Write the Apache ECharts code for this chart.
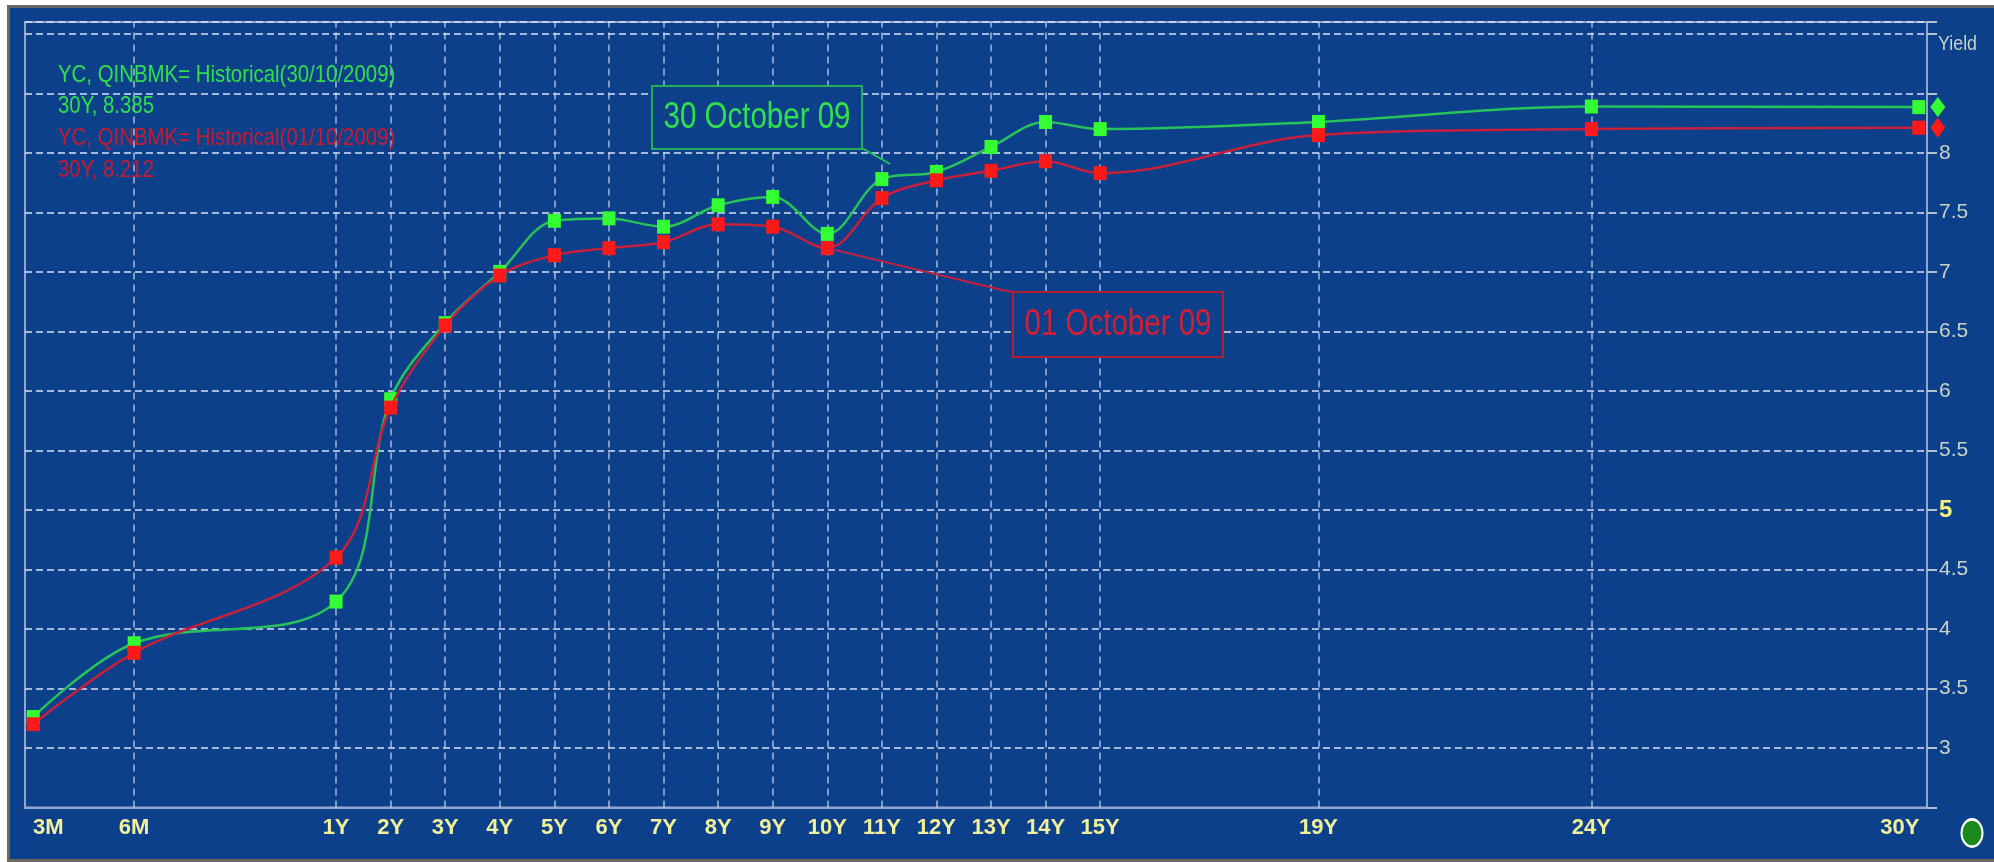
<!DOCTYPE html>
<html><head><meta charset="utf-8">
<script src="https://cdn.jsdelivr.net/npm/echarts@6/dist/echarts.min.js"></script>
<style>
html,body{margin:0;padding:0;background:#fff;width:1994px;height:862px;overflow:hidden}
#panel{position:absolute;left:7px;top:5px;width:1987px;height:857px;background:#0c408a;box-sizing:border-box;border:3px solid #6d6763;border-right:none;}
#chart{position:absolute;left:0;top:0;width:1994px;height:862px}
</style></head><body><div id="panel"></div><div id="chart"></div>
<script>
// ---- data ----
const tenorLabels = ['3M','6M','1Y','2Y','3Y','4Y','5Y','6Y','7Y','8Y','9Y','10Y','11Y','12Y','13Y','14Y','15Y','19Y','24Y','30Y'];
const tenorYears  = [0.25,0.5,1,2,3,4,5,6,7,8,9,10,11,12,13,14,15,19,24,30];
const yield30Oct09 = [3.26,3.88,4.23,5.93,6.57,7.00,7.43,7.45,7.38,7.56,7.63,7.32,7.78,7.84,8.05,8.26,8.20,8.26,8.39,8.385];
const yield01Oct09 = [3.20,3.80,4.60,5.86,6.55,6.97,7.14,7.20,7.25,7.40,7.38,7.20,7.62,7.77,7.85,7.93,7.83,8.15,8.20,8.212];
const yTickLabels = [3,3.5,4,4.5,5,5.5,6,6.5,7,7.5,8];
const legendLines = [
  ['YC, QINBMK= Historical(30/10/2009)', 'green'],
  ['30Y, 8.385', 'green'],
  ['YC, QINBMK= Historical(01/10/2009)', 'red'],
  ['30Y, 8.212', 'red']
];
const annotationGreen = '30 October 09';
const annotationRed = '01 October 09';

// ---- scale: short end (under 1Y) is stretched relative to years ----
const SHORT_END_STRETCH = 7.4;
function axisPos(t){ return t >= 1 ? t : 1 - (1 - t) * SHORT_END_STRETCH; }
const tenorPos = tenorYears.map(axisPos);

const SANS = '"Liberation Sans",Arial,sans-serif';
const C = {
  greenLine:'#27c25a', greenMark:'#33ff33', greenText:'#2fe04c',
  redLine:'#c8203c', redMark:'#ff1a1a', redText:'#c81a30',
  grid:'rgba(215,225,245,0.75)', frame:'#93a5cc', label:'#c9d3c4', xLabel:'#f2f09a', bg:'#0c408a'
};

const chart = echarts.init(document.getElementById('chart'), null, {renderer:'canvas'});

function labelFor(v){
  for (let i=0;i<tenorPos.length;i++) if (Math.abs(tenorPos[i]-v)<1e-6) return i;
  return -1;
}

const option = {
  animation:false,
  backgroundColor:'transparent',
  grid:{left:25, right:67, top:22, bottom:54.5, show:true, borderColor:C.frame, borderWidth:2, backgroundColor:'transparent'},
  xAxis:{
    type:'value', min:-4.70, max:30.15,
    splitLine:{show:false},
    axisLine:{show:true, onZero:false, lineStyle:{color:C.frame, width:2}},
    axisTick:{show:false},
    axisLabel:{
      customValues: tenorPos,
      margin:9,
      fontFamily:SANS, fontWeight:'bold', fontSize:22, color:C.xLabel,
      formatter:function(v){
        const i = labelFor(v);
        if (i<0) return '';
        if (i===0) return '{first|'+tenorLabels[i]+'}';
        if (i===tenorLabels.length-1) return '{last|'+tenorLabels[i]+'}';
        return '{n|'+tenorLabels[i]+'}';
      },
      rich:{
        n:{fontFamily:SANS, fontWeight:'bold', fontSize:22, color:C.xLabel},
        first:{fontFamily:SANS, fontWeight:'bold', fontSize:22, color:C.xLabel, padding:[0,0,0,30]},
        last:{fontFamily:SANS, fontWeight:'bold', fontSize:22, color:C.xLabel, padding:[0,38,0,0]}
      }
    }
  },
  yAxis:{
    type:'value', position:'right', min:2.5, max:9.1, interval:0.5,
    axisLine:{show:false, onZero:false},
    axisTick:{show:true, length:10, lineStyle:{color:'#b8c2cc', width:2}},
    splitLine:{show:true, lineStyle:{color:C.grid, width:2, type:[7,4]}},
    axisLabel:{
      margin:12, fontFamily:SANS, fontSize:21, color:C.label,
      formatter:function(v){
        const r = Math.round(v*10)/10;
        if (yTickLabels.indexOf(r)<0) return '';
        if (r===5) return '{b|5}';
        return '{n|'+r+'}';
      },
      rich:{
        n:{fontFamily:SANS, fontSize:21, color:C.label},
        b:{fontFamily:SANS, fontSize:24, fontWeight:'bold', color:'#f5f27c'}
      }
    }
  },
  series:[
    {
      type:'line', data:[], z:1, silent:true,
      markLine:{
        z:1, silent:true, symbol:['none','none'], label:{show:false},
        lineStyle:{color:C.grid, width:1.5, type:[7,5]},
        data: tenorPos.slice(1, -1).map(p => ({xAxis:p}))
      }
    },
    {
      name:annotationGreen, type:'line', smooth:0.35, z:3,
      data: tenorPos.map((p,i)=>[p, yield30Oct09[i]]),
      symbol:'rect', symbolSize:[13,14], showAllSymbol:true,
      lineStyle:{color:C.greenLine, width:2.5},
      itemStyle:{color:C.greenMark},
      markPoint:{
        symbol:'diamond', symbolSize:[15,20], symbolOffset:[19,0], label:{show:false},
        itemStyle:{color:C.greenMark},
        data:[{coord:[tenorPos[tenorPos.length-1], yield30Oct09[yield30Oct09.length-1]]}]
      }
    },
    {
      name:annotationRed, type:'line', smooth:0.35, z:4,
      data: tenorPos.map((p,i)=>[p, yield01Oct09[i]]),
      symbol:'rect', symbolSize:[13,14], showAllSymbol:true,
      lineStyle:{color:C.redLine, width:2.5},
      itemStyle:{color:C.redMark},
      markPoint:{
        symbol:'diamond', symbolSize:[15,20], symbolOffset:[19,0], label:{show:false},
        itemStyle:{color:C.redMark},
        data:[{coord:[tenorPos[tenorPos.length-1], yield01Oct09[yield01Oct09.length-1]]}]
      }
    }
  ]
};
chart.setOption(option);

// annotation leader anchors from data
const i10 = tenorYears.indexOf(10);
const redAnchor = chart.convertToPixel({gridIndex:0}, [tenorPos[i10], yield01Oct09[i10]]);

const graphics = [];
legendLines.forEach((l, k) => {
  graphics.push({type:'text', x:58, y:75 + k*31.7, scaleX:0.85, z:10,
    style:{text:l[0], fill: l[1]==='green' ? C.greenText : C.redText, font:'24px '+SANS, verticalAlign:'middle'}});
});
graphics.push({type:'text', x:1938, y:44, scaleX:0.85, z:10, style:{text:'Yield', fill:C.label, font:'21px '+SANS, verticalAlign:'middle'}});
graphics.push({type:'circle', x:1972, y:833, scaleY:1.3, z:10,
  shape:{cx:0, cy:0, r:10.5}, style:{fill:'#1a8a1e', stroke:'#ffffff', lineWidth:2}});
// green annotation
graphics.push({type:'line', z:10, shape:{x1:862, y1:148, x2:890, y2:164}, style:{stroke:C.greenLine, lineWidth:2}});
graphics.push({type:'rect', z:10, shape:{x:652, y:86, width:210, height:63}, style:{fill:C.bg, stroke:'#24ad58', lineWidth:2}});
graphics.push({type:'text', z:11, x:757, y:118, scaleX:0.82, style:{text:annotationGreen, fill:C.greenText, font:'36px '+SANS, align:'center', verticalAlign:'middle'}});
// red annotation
graphics.push({type:'polyline', z:10, shape:{points:[[redAnchor[0], redAnchor[1]], [1002, 290], [1013, 292]]}, style:{stroke:C.redLine, lineWidth:2, fill:null}});
graphics.push({type:'rect', z:10, shape:{x:1013, y:292, width:210, height:65}, style:{fill:C.bg, stroke:'#b41f30', lineWidth:2}});
graphics.push({type:'text', z:11, x:1118, y:325, scaleX:0.82, style:{text:annotationRed, fill:'#d41e34', font:'36px '+SANS, align:'center', verticalAlign:'middle'}});

chart.setOption({graphic:{elements:graphics}});
</script></body></html>
